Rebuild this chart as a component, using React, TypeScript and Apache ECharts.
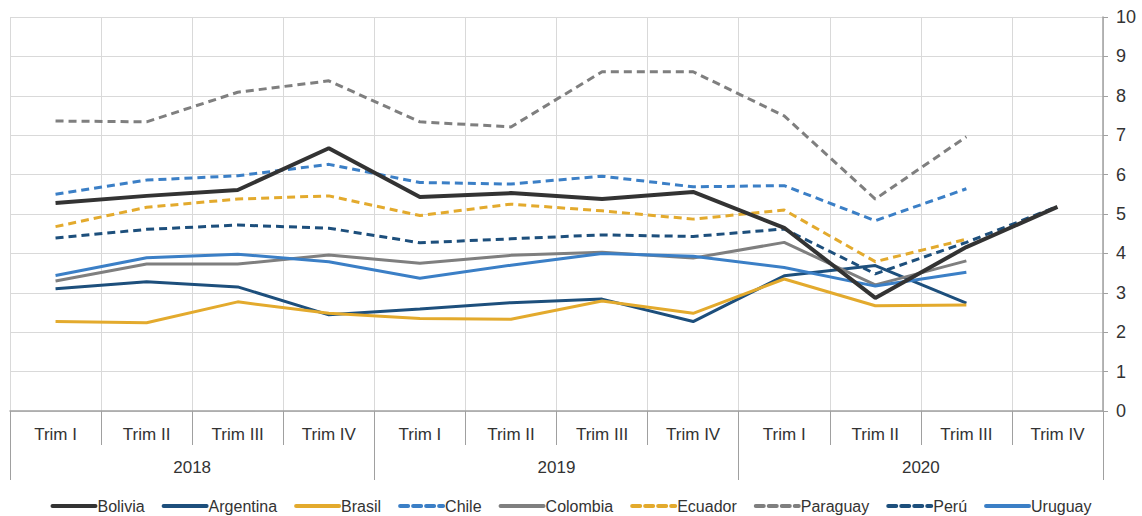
import React, { useEffect, useRef } from "react";
import * as echarts from "echarts";

const quarters = ["Trim I", "Trim II", "Trim III", "Trim IV", "Trim I", "Trim II", "Trim III", "Trim IV", "Trim I", "Trim II", "Trim III", "Trim IV"];
const years = ["2018", "2019", "2020"];

const bolivia = [5.28, 5.46, 5.61, 6.67, 5.43, 5.53, 5.38, 5.56, 4.65, 2.87, 4.16, 5.18];
const argentina = [3.1, 3.28, 3.15, 2.44, 2.59, 2.75, 2.84, 2.27, 3.43, 3.69, 2.74, null];
const brasil = [2.27, 2.24, 2.77, 2.48, 2.35, 2.33, 2.79, 2.48, 3.35, 2.67, 2.69, null];
const chile = [5.5, 5.86, 5.97, 6.26, 5.8, 5.76, 5.96, 5.69, 5.72, 4.83, 5.64, null];
const colombia = [3.3, 3.73, 3.73, 3.96, 3.75, 3.95, 4.03, 3.88, 4.28, 3.2, 3.81, null];
const ecuador = [4.68, 5.17, 5.38, 5.46, 4.96, 5.25, 5.08, 4.87, 5.1, 3.79, 4.36, null];
const paraguay = [7.36, 7.34, 8.09, 8.38, 7.34, 7.21, 8.61, 8.61, 7.49, 5.38, 6.96, null];
const peru = [4.39, 4.61, 4.72, 4.64, 4.27, 4.37, 4.47, 4.43, 4.62, 3.48, 4.28, 5.19];
const uruguay = [3.44, 3.89, 3.98, 3.79, 3.37, 3.7, 4.0, 3.93, 3.64, 3.17, 3.52, null];

const DARK = "#333333";
const NAVY = "#1d4f7c";
const GOLD = "#e3aa2d";
const BLUE = "#3b7fc6";
const GRAY = "#7f7f7f";

export default function App() {
  const ref = useRef<HTMLDivElement>(null);
  useEffect(() => {
    document.body.style.margin = "0";
    const chart = echarts.init(ref.current!, null, { renderer: "svg" });
    const mk = (name: string, data: (number | null)[], color: string, dashed: boolean, width = 3, z = 2) => ({
      name,
      type: "line",
      data,
      symbol: "none",
      z,
      lineStyle: { color, width, type: dashed ? [8, 5] : "solid", cap: "butt" },
      itemStyle: { color },
    });
    const font = "Liberation Sans, Arial, sans-serif";
    chart.setOption({
      animation: false,
      textStyle: { fontFamily: font },
      grid: { left: 10, right: 39, top: 17, bottom: 105, containLabel: false },
      legend: {
        bottom: -3,
        left: "center",
        itemWidth: 43,
        itemHeight: 12,
        itemGap: 17,
        itemStyle: { opacity: 0 },
        lineStyle: { width: 4, cap: "round" },
        textStyle: { fontSize: 16, color: "#333", fontFamily: font, padding: [0, 0, 0, -3] },
        data: ["Bolivia", "Argentina", "Brasil", "Chile", "Colombia", "Ecuador", "Paraguay", "Perú", "Uruguay"],
      },
      xAxis: [
        {
          type: "category",
          data: quarters,
          boundaryGap: true,
          position: "bottom",
          axisLine: { show: true, lineStyle: { color: "#a0a0a0", width: 1.5 } },
          axisTick: { show: true, length: 34, lineStyle: { color: "#a0a0a0" } },
          axisLabel: { fontSize: 17, color: "#333", margin: 15, fontFamily: font },
          splitLine: { show: true, lineStyle: { color: "#d9d9d9", width: 1 } },
        },
        {
          type: "category",
          data: years,
          boundaryGap: true,
          position: "bottom",
          axisLine: { show: false },
          axisTick: { show: true, length: 69, lineStyle: { color: "#a0a0a0" } },
          axisLabel: { fontSize: 17, color: "#333", margin: 48, fontFamily: font },
          splitLine: { show: false },
        },
      ],
      yAxis: {
        type: "value",
        position: "right",
        min: 0,
        max: 10,
        interval: 1,
        axisLine: { show: true, lineStyle: { color: "#a0a0a0", width: 1.5 } },
        axisTick: { show: true, length: 5, inside: false, lineStyle: { color: "#a0a0a0" } },
        axisLabel: { fontSize: 18, color: "#333", margin: 13, fontFamily: font },
        splitLine: { show: true, lineStyle: { color: "#d9d9d9", width: 1 } },
      },
      series: [
        mk("Bolivia", bolivia, DARK, false, 4, 10),
        mk("Argentina", argentina, NAVY, false),
        mk("Brasil", brasil, GOLD, false),
        mk("Chile", chile, BLUE, true),
        mk("Colombia", colombia, GRAY, false),
        mk("Ecuador", ecuador, GOLD, true),
        mk("Paraguay", paraguay, GRAY, true),
        mk("Perú", peru, NAVY, true),
        mk("Uruguay", uruguay, BLUE, false),
      ],
    });
    return () => chart.dispose();
  }, []);
  return <div ref={ref} style={{ width: 1142, height: 516 }} />;
}
